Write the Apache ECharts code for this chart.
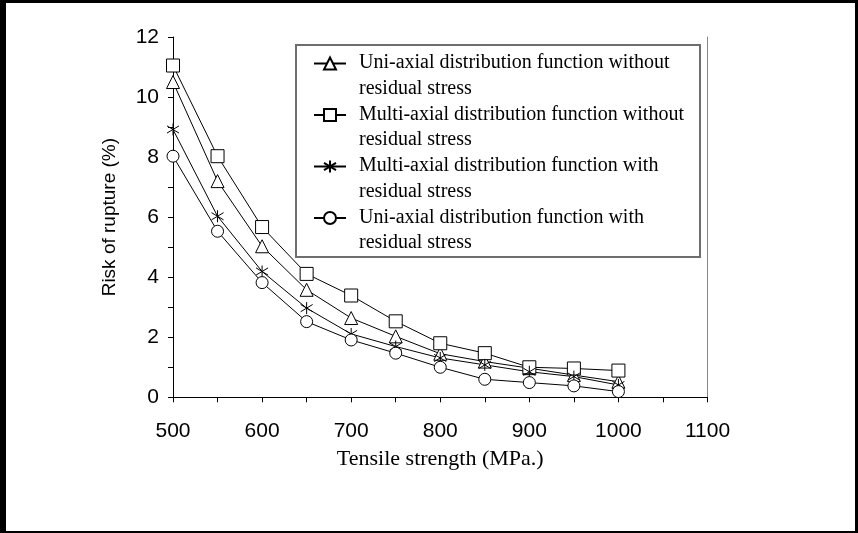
<!DOCTYPE html>
<html><head><meta charset="utf-8">
<script src="https://cdn.jsdelivr.net/npm/echarts@6/dist/echarts.min.js"></script>
<style>html,body{margin:0;padding:0;background:#fff}#c{width:858px;height:533px}</style>
</head><body><div id="c"></div>
<script>
const strengths = [500, 550, 600, 650, 700, 750, 800, 850, 900, 950, 1000];
const uniWithout = [10.5, 7.2, 5.03, 3.58, 2.64, 2.03, 1.45, 1.19, 0.97, 0.74, 0.52];
const multiWithout = [11.05, 8.03, 5.67, 4.11, 3.39, 2.53, 1.8, 1.47, 1.0, 0.96, 0.89];
const multiWith = [8.92, 6.03, 4.19, 2.97, 2.11, 1.69, 1.31, 1.08, 0.85, 0.69, 0.41];
const uniWith = [8.03, 5.53, 3.82, 2.52, 1.91, 1.47, 1.0, 0.6, 0.49, 0.38, 0.19];
const seriesNames = [
  'Uni-axial distribution function without\nresidual stress',
  'Multi-axial distribution function without\nresidual stress',
  'Multi-axial distribution function with\nresidual stress',
  'Uni-axial distribution function with\nresidual stress'
];
const xMin = 500, xMax = 1100, xStep = 100;
const yMin = 0, yMax = 12, yStep = 2;

const star = 'path://M0,-1L0,1M-0.8,-0.6L0.8,0.6M-0.8,0.6L0.8,-0.6';
const symbols = ['triangle', 'rect', star, 'circle'];
const sizes = [13, 13, 12, 12];
const values = [uniWithout, multiWithout, multiWith, uniWith];

const serif = '"Liberation Serif","Times New Roman",serif';
const sans = '"Liberation Sans",Arial,sans-serif';

const chart = echarts.init(document.getElementById('c'), null, {renderer: 'canvas'});
chart.setOption({
  animation: false,
  backgroundColor: '#fff',
  grid: {left: 173, top: 37, right: 150.5, bottom: 135.7},
  xAxis: [{
    type: 'value', min: xMin, max: xMax, interval: xStep,
    name: 'Tensile strength (MPa.)', nameLocation: 'middle', nameGap: 51,
    nameTextStyle: {fontFamily: serif, fontSize: 22, color: '#000'},
    axisLine: {show: true, lineStyle: {color: '#000', width: 1}},
    axisTick: {show: true, length: 5, lineStyle: {color: '#000'}},
    minorTick: {show: true, splitNumber: 2, length: 5, lineStyle: {color: '#000'}},
    axisLabel: {fontFamily: sans, fontSize: 21, color: '#000', margin: 23,
      formatter: function (v) { return String(v); }},
    splitLine: {show: false}
  }, {
    type: 'value', min: xMin, max: xMax, position: 'top',
    axisLine: {show: true, lineStyle: {color: '#000', width: 1}},
    axisTick: {show: false}, axisLabel: {show: false}, splitLine: {show: false}
  }],
  yAxis: [{
    type: 'value', min: yMin, max: yMax, interval: yStep,
    name: 'Risk of rupture (%)', nameLocation: 'middle', nameGap: 54,
    nameTextStyle: {fontFamily: sans, fontSize: 19, color: '#000'},
    axisLine: {show: true, lineStyle: {color: '#000', width: 1}},
    axisTick: {show: true, length: 5, lineStyle: {color: '#000'}},
    minorTick: {show: true, splitNumber: 2, length: 5, lineStyle: {color: '#000'}},
    axisLabel: {fontFamily: sans, fontSize: 21, color: '#000', margin: 14},
    splitLine: {show: false}
  }, {
    type: 'value', min: yMin, max: yMax, position: 'right',
    axisLine: {show: true, lineStyle: {color: '#888', width: 1}},
    axisTick: {show: false}, axisLabel: {show: false}, splitLine: {show: false}
  }],
  legend: {
    orient: 'vertical', left: 313, top: 53, padding: 0, itemGap: 6,
    itemWidth: 32, itemHeight: 15,
    data: seriesNames,
    formatter: function (name) {
      const p = name.split('\n');
      return '{a|' + p[0] + '}\n{b|' + p[1] + '}';
    },
    textStyle: {
      padding: [0, 0, 0, 8], color: '#000',
      rich: {
        a: {fontFamily: serif, fontSize: 20, lineHeight: 50, color: '#000'},
        b: {fontFamily: serif, fontSize: 20, lineHeight: 1, color: '#000'}
      }
    },
    selectedMode: false
  },
  graphic: [
    {type: 'rect', z: -1, shape: {x: 296, y: 45, width: 404, height: 212}, style: {fill: '#fff', stroke: '#6e6e6e', lineWidth: 2}},
    {type: 'rect', shape: {x: 0, y: 0, width: 6, height: 533}, style: {fill: '#000'}},
    {type: 'rect', shape: {x: 0, y: 0, width: 858, height: 3}, style: {fill: '#000'}},
    {type: 'rect', shape: {x: 855, y: 0, width: 3, height: 533}, style: {fill: '#000'}},
    {type: 'rect', shape: {x: 0, y: 531, width: 858, height: 2}, style: {fill: '#000'}}
  ],
  series: values.map(function (v, i) {
    return {
      type: 'line', name: seriesNames[i],
      data: strengths.map(function (x, j) { return [x, v[j]]; }),
      symbol: symbols[i], symbolSize: sizes[i],
      showAllSymbol: true,
      lineStyle: {color: '#000', width: 1},
      itemStyle: {color: '#fff', borderColor: '#000', borderWidth: 1}
    };
  })
});
</script>
</body></html>
